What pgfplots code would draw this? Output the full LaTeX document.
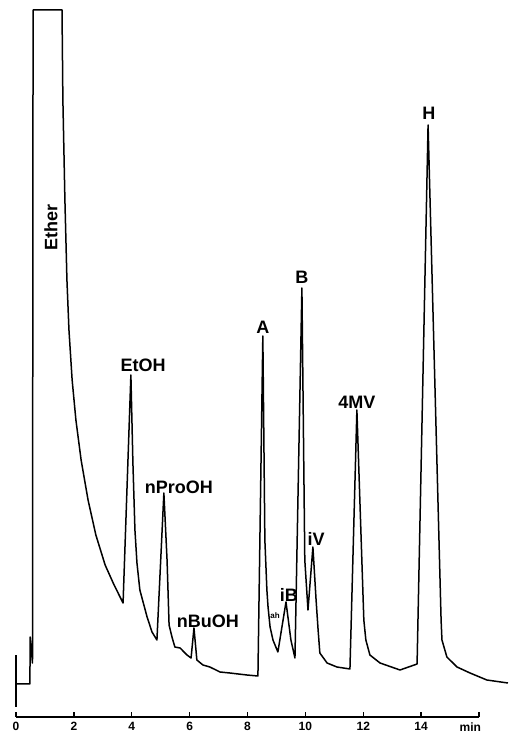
\documentclass[border=0pt]{standalone}
\usepackage{fontspec}
\setmainfont{Liberation Sans}
\usepackage{pgfplots}
\pgfplotsset{compat=1.18}
\tikzset{lbl/.style={font=\fontsize{18bp}{18bp}\selectfont\bfseries, inner sep=0pt, anchor=center},
  tr/.style={line width=1.5bp, black, line join=round, mark=none}}
\begin{document}
\begin{tikzpicture}
\begin{axis}[
  scale only axis, width=463bp, height=717bp,
  xmin=0, xmax=16, ymin=0, ymax=717,
  axis x line=bottom, axis y line=none,
  axis line style={line width=1.6bp, -},
  xtick={0,2,...,16}, xticklabels={0,2,4,6,8,10,12,14,{}},
  ytick=\empty,
  tick align=inside, major tick length=5bp,
  tick style={line width=1.4bp, black},
  xticklabel style={font=\fontsize{12bp}{12bp}\selectfont\bfseries, inner sep=0pt, yshift=-5bp},
  /pgf/number format/assume math mode=true,
  clip=false,
]
% injection marker
\addplot[tr] coordinates {(0,10) (0,62)};
% chromatogram trace
\addplot[tr] coordinates {
(0,33) (0.48,33) (0.49,80) (0.57,54) (0.59,707) (1.59,707)
(1.62,617) (1.69,517) (1.76,437) (1.83,387) (1.94,337) (2.07,297) (2.25,257)
(2.49,217) (2.76,182) (3.08,152) (3.39,132) (3.70,114)
(3.97,342) (4.04,254) (4.11,187) (4.18,154) (4.28,127) (4.53,100) (4.70,85) (4.87,77)
(5.11,224) (5.22,157) (5.29,92) (5.39,80) (5.49,70) (5.67,69) (5.91,62) (6.05,59)
(6.15,89) (6.25,57) (6.46,52) (6.70,50) (7.05,45) (7.39,44) (7.98,42) (8.36,41)
(8.53,381) (8.60,177) (8.67,127) (8.71,110) (8.78,90) (8.88,77) (9.05,65)
(9.33,115) (9.50,77) (9.64,59)
(9.88,429) (9.98,157) (10.09,107)
(10.26,170) (10.37,117) (10.44,87) (10.50,64) (10.75,54) (11.09,50) (11.54,48)
(11.78,307) (12.02,97) (12.09,77) (12.23,62) (12.58,54) (13.27,47) (13.86,53)
(14.24,592) (14.69,97) (14.72,77) (14.89,60) (15.24,50) (15.69,44) (16.27,37) (17.00,34)
};
% labels
\node[lbl, rotate=90] at (axis cs:1.21,489) {Ether};
\node[lbl] at (axis cs:4.39,352) {EtOH};
\node[lbl] at (axis cs:5.63,230) {nProOH};
\node[lbl] at (axis cs:6.63,96) {nBuOH};
\node[lbl] at (axis cs:8.53,390) {A};
\node[lbl] at (axis cs:9.88,440) {B};
\node[lbl] at (axis cs:9.43,122) {iB};
\node[lbl] at (axis cs:10.37,178) {iV};
\node[lbl] at (axis cs:11.78,315) {4MV};
\node[lbl] at (axis cs:14.27,604) {H};
\node[font=\fontsize{8bp}{8bp}\selectfont\bfseries, inner sep=0pt] at (axis cs:8.95,101) {ah};
\node[font=\fontsize{12bp}{12bp}\selectfont\bfseries, inner sep=0pt, anchor=north] at (axis cs:15.7,-6) {min};
% page extent
\path (axis cs:-0.553,-17) rectangle (axis cs:17.10,717);
\end{axis}
\end{tikzpicture}
\end{document}
